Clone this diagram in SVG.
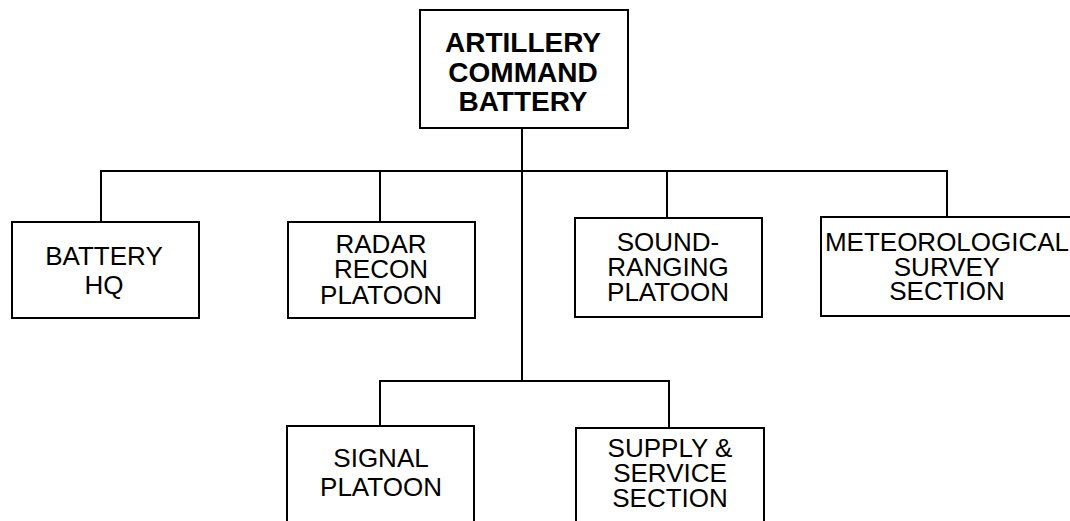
<svg xmlns="http://www.w3.org/2000/svg" width="1070" height="521" viewBox="0 0 1070 521">
<style>
.box{fill:#fff;stroke:#000;stroke-width:2}
.ln{fill:none;stroke:#000;stroke-width:2}
text{font-family:"Liberation Sans",Arial,sans-serif;fill:#000;text-anchor:middle}
.t{font-size:26px}
.b{font-size:28px;font-weight:bold}
</style>
<rect width="1070" height="521" fill="#fff"/>
<g id="connectors">
<path class="ln" d="M522,128 V381"/>
<path class="ln" d="M101,222 V171 H947 V217"/>
<path class="ln" d="M380,222 V171"/>
<path class="ln" d="M667,218 V171"/>
<path class="ln" d="M380,426 V381 H669 V428"/>
</g>
<g id="artillery">
<rect class="box" x="420" y="10" width="208" height="118"/>
<text class="b" x="523" y="52">ARTILLERY</text>
<text class="b" x="523" y="82">COMMAND</text>
<text class="b" x="523" y="111">BATTERY</text>
</g>
<g id="battery-hq">
<rect class="box" x="12" y="222" width="187" height="96"/>
<text class="t" x="104" y="265">BATTERY</text>
<text class="t" x="104" y="294">HQ</text>
</g>
<g id="radar">
<rect class="box" x="288" y="222" width="187" height="96"/>
<text class="t" x="381" y="253">RADAR</text>
<text class="t" x="381" y="278">RECON</text>
<text class="t" x="381" y="304">PLATOON</text>
</g>
<g id="sound">
<rect class="box" x="575" y="218" width="187" height="99"/>
<text class="t" x="668" y="251">SOUND-</text>
<text class="t" x="668" y="276">RANGING</text>
<text class="t" x="668" y="301">PLATOON</text>
</g>
<g id="met">
<rect class="box" x="821" y="217" width="260" height="99"/>
<text class="t" x="947" y="251">METEOROLOGICAL</text>
<text class="t" x="947" y="276">SURVEY</text>
<text class="t" x="947" y="300">SECTION</text>
</g>
<g id="signal">
<rect class="box" x="287" y="426" width="187" height="110"/>
<text class="t" x="381" y="467">SIGNAL</text>
<text class="t" x="381" y="496">PLATOON</text>
</g>
<g id="supply">
<rect class="box" x="576" y="428" width="188" height="110"/>
<text class="t" x="670" y="457">SUPPLY &amp;</text>
<text class="t" x="670" y="482">SERVICE</text>
<text class="t" x="670" y="507">SECTION</text>
</g>
</svg>
